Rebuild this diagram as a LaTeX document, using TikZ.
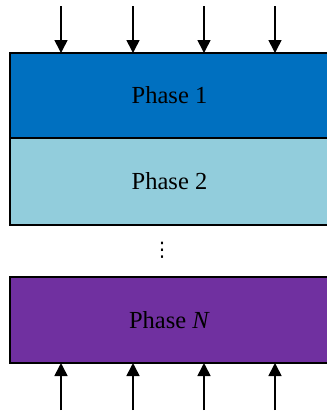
\documentclass[tikz,border=0pt]{standalone}
\usepackage{fontspec}
\setmainfont{Liberation Serif}
\newfontfamily\symfont{DejaVu Sans}
\usetikzlibrary{arrows.meta}
\definecolor{phaseone}{HTML}{0070C0}
\definecolor{phasetwo}{HTML}{92CDDC}
\definecolor{phasen}{HTML}{7030A0}
\begin{document}
\begin{tikzpicture}[x=1pt,y=-1pt,inner sep=0pt,outer sep=0pt,
phasebox/.style={draw,rectangle,line width=2pt,minimum width=319pt,font=\fontsize{24.5}{28}\selectfont},
arr/.style={-{Triangle[width=13pt,length=13pt]},line width=1.6pt}]
\clip (0,0) rectangle (327,413);
\draw (169.5,95.5) node[phasebox,fill=phaseone,minimum height=85pt] (one) {Phase 1};
\draw (169.5,181.5) node[phasebox,fill=phasetwo,minimum height=87pt] (two) {Phase 2};
\draw (169.5,320) node[phasebox,fill=phasen,minimum height=86pt] (last) {Phase \textit{N}};
\draw (162,250) node[font=\symfont\fontsize{20}{24}\selectfont] (dots) {⋮};
% inputs on top, outputs below
\foreach \x in {61,133,204,275} {
  \coordinate (in\x) at (\x,6);
  \coordinate (out\x) at (\x,410);
  \draw[arr] (in\x) -- (in\x |- one.north);
  \draw[arr] (out\x) -- (out\x |- last.south);
}
\end{tikzpicture}
\end{document}
